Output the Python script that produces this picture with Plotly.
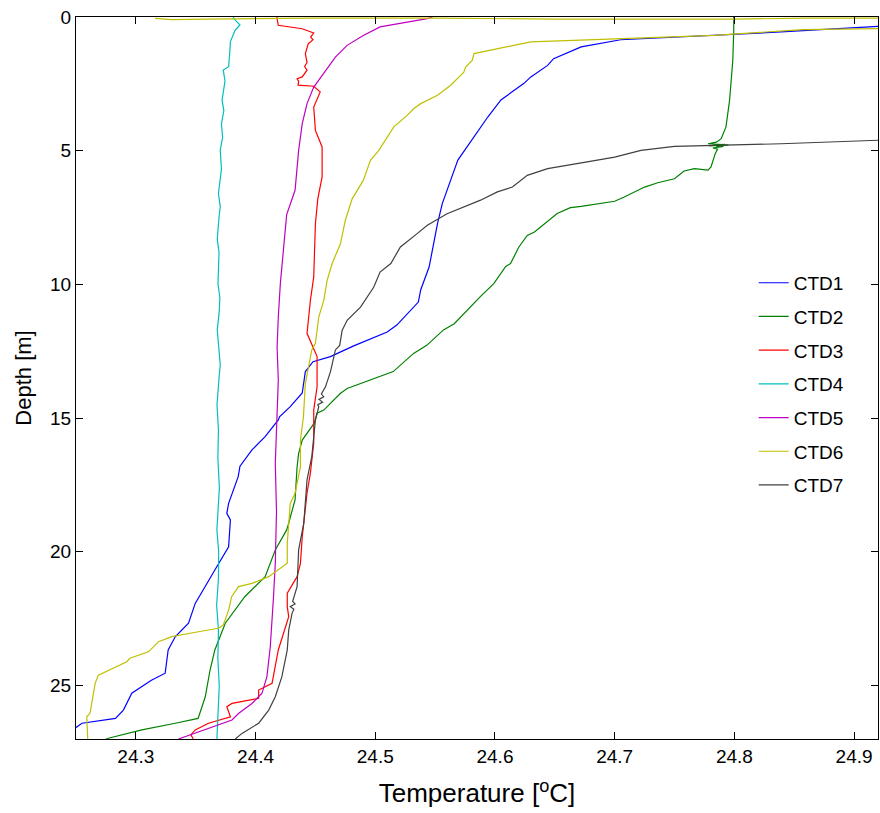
import plotly.graph_objects as go

# ---- data (temperature in degC, depth in m) ----
names = ["CTD1", "CTD2", "CTD3", "CTD4", "CTD5", "CTD6", "CTD7"]
colors = ["#0000FF", "#008000", "#FF0000", "#00BFBF", "#BF00BF", "#BFBF00", "#404040"]

ctd1_T = [24.95, 24.92, 24.839, 24.755, 24.705, 24.672, 24.649, 24.644, 24.63, 24.624, 24.605, 24.594,
          24.578, 24.569, 24.563, 24.556, 24.552, 24.55, 24.545, 24.538, 24.536, 24.518, 24.51, 24.482,
          24.4625, 24.448, 24.4416, 24.439, 24.429, 24.42, 24.419, 24.408, 24.397, 24.387, 24.3855,
          24.3775, 24.376, 24.379, 24.3775, 24.366, 24.3496, 24.344, 24.333, 24.327, 24.3245, 24.313,
          24.2966, 24.2896, 24.283, 24.255, 24.249, 24.24]
ctd1_D = [0.3, 0.35, 0.56, 0.75, 0.85, 1.12, 1.56, 1.81, 2.24, 2.49, 3.1, 3.74,
          4.74, 5.35, 6.1, 6.98, 7.73, 8.23, 9.35, 10.2, 10.66, 11.52, 11.78, 12.3,
          12.7, 12.89, 13.26, 14.06, 14.57, 14.95, 15.07, 15.69, 16.19, 16.8, 17.19,
          18.19, 18.56, 18.81, 19.81, 20.68, 21.93, 22.67, 23.17, 23.67, 24.54, 24.8,
          25.29, 25.92, 26.23, 26.41, 26.6, 26.7]

ctd2_T = [24.7995, 24.7995, 24.7987, 24.796, 24.793, 24.789, 24.785, 24.778, 24.795, 24.779, 24.792,
          24.785, 24.791, 24.782, 24.786, 24.784, 24.7805, 24.778, 24.7666, 24.758, 24.75, 24.736,
          24.725, 24.708, 24.7, 24.672, 24.663, 24.652, 24.641, 24.633, 24.627, 24.62, 24.613, 24.609,
          24.599, 24.588, 24.566, 24.557, 24.543, 24.532, 24.515, 24.4765, 24.471, 24.457, 24.4514,
          24.449, 24.439, 24.436, 24.4347, 24.434, 24.433, 24.4277, 24.426, 24.4165, 24.408, 24.391,
          24.3747, 24.366, 24.362, 24.358, 24.352, 24.333, 24.305, 24.277, 24.27]
ctd2_D = [0.0, 0.5, 1.62, 3.12, 4.11, 4.55, 4.68, 4.74, 4.78, 4.82, 4.76, 4.86, 4.84, 4.9, 4.94, 5.11,
          5.61, 5.73, 5.67, 5.76, 6.05, 6.2, 6.36, 6.73, 6.89, 7.08, 7.13, 7.35, 7.73, 8.04, 8.17,
          8.6, 9.22, 9.33, 9.97, 10.45, 11.47, 11.7, 12.28, 12.58, 13.26, 13.89, 14.07, 14.7, 14.82,
          15.19, 15.82, 16.32, 16.82, 17.5, 18.06, 18.93, 19.18, 19.93, 20.93, 21.68, 22.67, 23.67,
          24.42, 25.42, 26.23, 26.41, 26.66, 26.97, 27.1]

ctd3_T = [24.418, 24.418, 24.419, 24.439, 24.4486, 24.446, 24.448, 24.444, 24.4416, 24.443, 24.441,
          24.443, 24.439, 24.4347, 24.436, 24.4355, 24.4486, 24.454, 24.4486, 24.45, 24.4556, 24.4556,
          24.452, 24.45, 24.4486, 24.4458, 24.443, 24.4514, 24.4514, 24.4486, 24.4486, 24.4458, 24.443,
          24.441, 24.439, 24.4375, 24.4347, 24.4265, 24.4265, 24.4277, 24.419, 24.4138, 24.4026,
          24.4026, 24.3803, 24.376, 24.379, 24.3607, 24.3496, 24.346, 24.348]
ctd3_D = [0.0, 0.06, 0.31, 0.44, 0.6, 0.75, 0.85, 1.0, 1.37, 1.7, 1.85, 1.99, 2.24, 2.31, 2.4, 2.55,
          2.59, 2.8, 3.37, 4.24, 4.86, 5.98, 6.8, 7.73, 9.72, 10.6, 11.83, 12.7, 13.83, 14.7, 15.94,
          17.06, 17.81, 18.7, 19.44, 20.43, 20.93, 21.55, 22.05, 22.43, 23.67, 24.92, 25.17, 25.48,
          25.67, 25.79, 26.17, 26.41, 26.66, 26.84, 27.0]

ctd4_T = [24.3816, 24.3816, 24.387, 24.383, 24.381, 24.379, 24.3785, 24.3775, 24.373, 24.3745, 24.372,
          24.3735, 24.3715, 24.3725, 24.3705, 24.3715, 24.369, 24.3705, 24.3695, 24.368, 24.3695,
          24.3686, 24.3702, 24.3697, 24.368, 24.369, 24.3705, 24.3695, 24.3678, 24.369, 24.3685,
          24.3698, 24.3677, 24.3692, 24.369, 24.3675, 24.369, 24.3685, 24.3697, 24.3677]
ctd4_D = [0.0, 0.05, 0.3, 0.49, 0.7, 0.92, 1.3, 1.86, 1.98, 2.4, 3.1, 3.5, 4.0, 4.5, 4.97, 5.7,
          6.6, 7.1, 7.48, 8.3, 8.8, 9.97, 10.5, 11.0, 11.7, 12.34, 13.0, 13.5, 14.5, 15.44, 16.5,
          17.6, 19.18, 20.0, 21.0, 22.0, 22.93, 24.0, 25.0, 27.0]

ctd5_T = [24.548, 24.5435, 24.5267, 24.504, 24.49, 24.4765, 24.4667, 24.457, 24.4486, 24.443, 24.439,
          24.436, 24.433, 24.426, 24.4235, 24.4207, 24.419, 24.418, 24.419, 24.4165, 24.4175, 24.4165,
          24.415, 24.4123, 24.4095, 24.4054, 24.397, 24.386, 24.3803, 24.3607, 24.344, 24.3356]
ctd5_D = [0.0, 0.06, 0.19, 0.37, 0.69, 1.06, 1.5, 2.12, 2.62, 3.24, 3.99, 4.99, 6.48, 7.39, 8.73,
          9.97, 11.22, 12.34, 13.58, 16.69, 18.5, 20.43, 21.68, 23.55, 24.67, 25.29, 25.67, 26.04,
          26.29, 26.6, 26.84, 27.0]

ctd6_T = [24.316, 24.33, 24.36, 24.45, 24.55, 24.65, 24.8, 24.86, 24.95, 25.0, 24.95, 24.92, 24.857,
          24.783, 24.672, 24.63, 24.6157, 24.588, 24.5825, 24.581, 24.5755, 24.574, 24.563, 24.552,
          24.538, 24.532, 24.5267, 24.5155, 24.503, 24.496, 24.49, 24.4807, 24.475, 24.4709, 24.464,
          24.4598, 24.457, 24.4528, 24.45, 24.447, 24.4416, 24.44, 24.4375, 24.4375, 24.433, 24.429,
          24.4265, 24.4265, 24.411, 24.397, 24.3858, 24.38, 24.3775, 24.373, 24.369, 24.3523, 24.33,
          24.319, 24.3105, 24.295, 24.2924, 24.2687, 24.266, 24.2617, 24.259, 24.2598]
ctd6_D = [0.05, 0.1, 0.08, 0.04, 0.04, 0.08, 0.08, 0.04, 0.04, 0.1, 0.42, 0.44, 0.47,
          0.69, 0.87, 0.93, 1.06, 1.33, 1.37, 1.62, 1.87, 2.06, 2.55, 2.93,
          3.24, 3.43, 3.68, 4.11, 4.99, 5.36, 6.11, 6.8, 7.6, 8.48, 9.22,
          9.85, 10.6, 11.22, 12.2, 12.45, 13.7, 14.95, 15.82, 16.82, 17.81, 18.19,
          19.68, 20.43, 20.93, 21.18, 21.3, 21.68, 22.18, 22.74, 22.86, 22.99, 23.17,
          23.36, 23.74, 23.98, 24.11, 24.61, 24.92, 26.04, 26.17, 27.0]

ctd7_T = [24.96, 24.92, 24.839, 24.783, 24.75, 24.722, 24.7, 24.677, 24.644, 24.627, 24.6146, 24.602,
          24.588, 24.56, 24.5435, 24.535, 24.521, 24.513, 24.504, 24.4988, 24.4877, 24.4765, 24.4723,
          24.4703, 24.4667, 24.4626, 24.4584, 24.455, 24.457, 24.453, 24.456, 24.452, 24.4528, 24.45,
          24.4486, 24.447, 24.443, 24.4416, 24.4403, 24.436, 24.4347, 24.431, 24.433, 24.429, 24.432,
          24.4305, 24.4277, 24.4265, 24.422, 24.4165, 24.411, 24.4026, 24.3887, 24.383]
ctd7_D = [4.58, 4.61, 4.74, 4.8, 4.84, 4.99, 5.24, 5.42, 5.67, 5.92, 6.36, 6.54,
          6.85, 7.36, 7.79, 8.1, 8.6, 9.22, 9.54, 10.1, 10.85, 11.34, 11.72,
          12.28, 12.45, 13.26, 13.83, 14.1, 14.2, 14.3, 14.4, 14.5, 14.57, 15.07,
          15.82, 16.44, 17.31, 18.06, 18.93, 19.93, 21.3, 21.85, 21.95, 22.05, 22.15,
          22.3, 22.93, 23.67, 24.67, 25.42, 25.92, 26.41, 26.79, 27.0]

temps = [ctd1_T, ctd2_T, ctd3_T, ctd4_T, ctd5_T, ctd6_T, ctd7_T]
depths = [ctd1_D, ctd2_D, ctd3_D, ctd4_D, ctd5_D, ctd6_D, ctd7_D]

x_ticks = [24.3, 24.4, 24.5, 24.6, 24.7, 24.8, 24.9]
y_ticks = [0, 5, 10, 15, 20, 25]

FONT = "Liberation Sans, Arial, sans-serif"

fig = go.Figure()
for n, c, t, d in zip(names, colors, temps, depths):
    fig.add_trace(go.Scatter(x=t, y=d, mode="lines", name=n, legendgroup=n,
                             line=dict(color=c, width=1.2)))

fig.update_layout(
    width=880, height=813,
    margin=dict(l=76, r=2, t=17, b=74),
    paper_bgcolor="white", plot_bgcolor="white",
    font=dict(family=FONT, size=19, color="black"),
    showlegend=True,
    legend=dict(x=0.845, y=0.658, xanchor="left", yanchor="top",
                bgcolor="rgba(0,0,0,0)", borderwidth=0,
                font=dict(size=19, family=FONT),
                traceorder="grouped", tracegroupgap=6),
)
fig.update_xaxes(range=[24.25, 24.92], tickvals=x_ticks, ticktext=[f"{v:.1f}" for v in x_ticks],
                 ticks="inside", ticklen=7, tickcolor="black", tickwidth=1,
                 showline=True, linecolor="black", linewidth=1, mirror="ticks",
                 showgrid=False, zeroline=False,
                 title=dict(text="Temperature [<sup>o</sup>C]", font=dict(size=26, family=FONT), standoff=18))
fig.update_yaxes(range=[27, 0], tickvals=y_ticks,
                 ticks="inside", ticklen=7, tickcolor="black", tickwidth=1,
                 showline=True, linecolor="black", linewidth=1, mirror="ticks",
                 showgrid=False, zeroline=False,
                 title=dict(text="Depth [m]", font=dict(size=22, family=FONT), standoff=12))

fig.write_html("out.html")
